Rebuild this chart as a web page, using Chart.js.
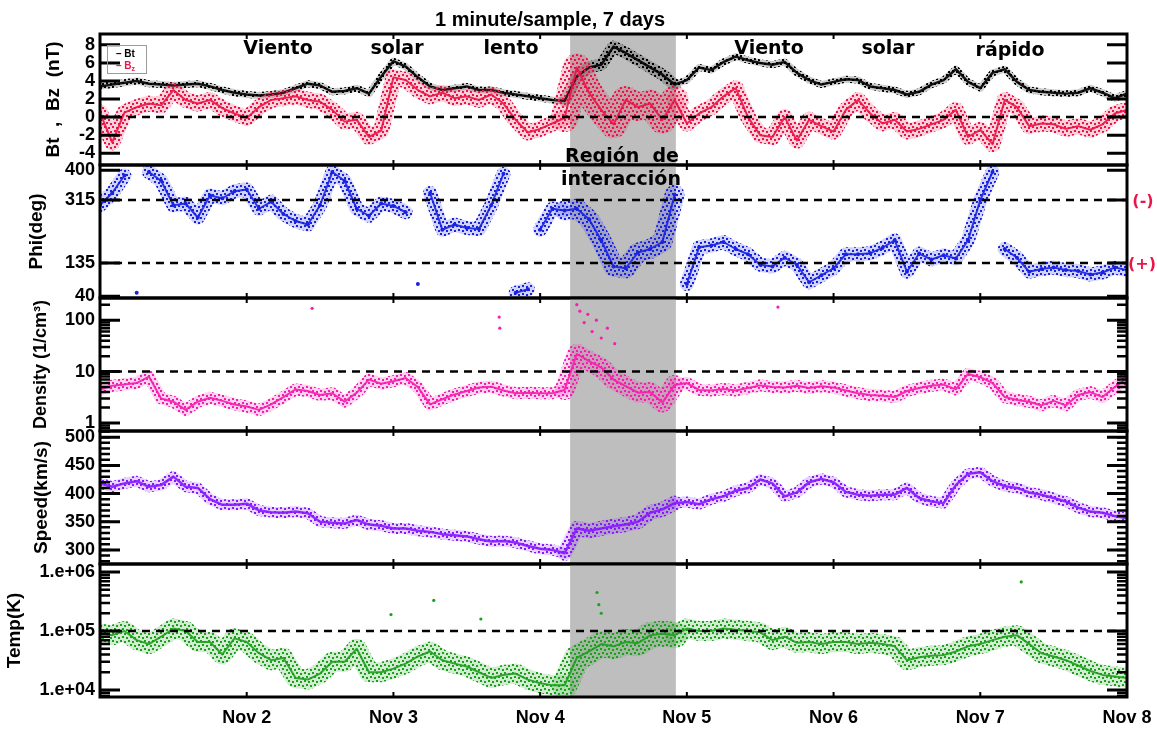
<!DOCTYPE html>
<html>
<head>
<meta charset="utf-8">
<title>Solar wind, 1 minute/sample, 7 days</title>
<script src="https://cdn.jsdelivr.net/npm/chart.js@4.4.1/dist/chart.umd.min.js"></script>
<style>
  html, body { margin: 0; padding: 0; background: #fff; }
  #wrap { position: relative; width: 1157px; height: 732px; overflow: hidden; }
  #wrap canvas { position: absolute; left: 0; }
  .txt { position: absolute; transform: translate(-50%, -50%); white-space: nowrap; line-height: 1;
         font-weight: bold; color: #000; z-index: 5; }
  .ann { font-family: "DejaVu Sans", sans-serif; font-size: 19px; }
  .sign { font-family: "DejaVu Sans", sans-serif; font-size: 16px; color: #e8174a; }
  #title { font-family: "Liberation Sans", Arial, sans-serif; font-size: 20px; }
  #legend { position: absolute; left: 107px; top: 45px; width: 40px; height: 29px; border: 1px solid #9a9a9a;
            font-family: "Liberation Sans", Arial, sans-serif; font-weight: bold; font-size: 10px; line-height: 12px;
            z-index: 5; padding: 2px 0 0 8px; box-sizing: border-box; }
  #legend sub { font-size: 7px; line-height: 0; vertical-align: -2px; }
</style>
</head>
<body>
<div id="wrap">
  <canvas id="pB"></canvas>
  <canvas id="pPhi"></canvas>
  <canvas id="pDen"></canvas>
  <canvas id="pSpd"></canvas>
  <canvas id="pTemp"></canvas>

  <div id="title" class="txt" style="left:550px; top:19px;">1 minute/sample, 7 days</div>
  <div class="txt ann" style="left:278px; top:47px;">Viento</div>
  <div class="txt ann" style="left:397px; top:47px;">solar</div>
  <div class="txt ann" style="left:511px; top:47px;">lento</div>
  <div class="txt ann" style="left:769px; top:47px;">Viento</div>
  <div class="txt ann" style="left:888px; top:47px;">solar</div>
  <div class="txt ann" style="left:1010px; top:49px;">rápido</div>
  <div class="txt ann" style="left:622px; top:155px;">Región&nbsp;&nbsp;de</div>
  <div class="txt ann" style="left:621px; top:178px;">interacción</div>
  <div class="txt sign" style="left:1143px; top:201px;">(-)</div>
  <div class="txt sign" style="left:1142px; top:264px;">(+)</div>
  <div id="legend"><div>&#8211;&nbsp;Bt</div><div style="color:#e8174a">&#8211;&nbsp;B<sub>z</sub></div></div>
</div>

<script>
// Time grid: hours since Nov 1 00:00 (2-hour samples)
const hours = [0,2,4,6,8,10,12,14,16,18,20,22,24,26,28,30,32,34,36,38,40,42,44,46,48,50,52,54,56,58,
  60,62,64,66,68,70,72,74,76,78,80,82,84,86,88,90,92,94,96,98,100,102,104,106,108,110,112,114,116,118,
  120,122,124,126,128,130,132,134,136,138,140,142,144,146,148,150,152,154,156,158,160,162,164,166,168];

// Magnetic field magnitude Bt and Bz component (nT)
const bt = [3.4,3.6,3.8,4.0,3.7,3.6,3.5,3.6,3.7,3.4,3.0,2.7,2.5,2.4,2.5,2.7,3.2,3.7,3.5,2.8,
  2.9,3.2,2.6,4.5,6.2,5.6,4.4,3.4,3.0,3.2,3.4,3.0,3.0,2.7,2.5,2.3,2.1,1.9,1.8,4.5,
  5.5,5.8,7.8,7.1,6.3,5.5,4.7,3.6,4.1,5.5,5.2,6.1,6.7,6.3,6.0,5.8,6.1,4.9,4.1,3.6,
  3.9,4.2,4.1,3.4,3.2,3.0,2.5,2.8,3.6,4.1,5.3,3.9,3.2,4.9,5.3,3.9,3.0,2.8,2.7,2.6,
  2.7,3.2,2.7,2.1,2.6];
const bz = [0.5,-2.8,0.5,1.1,1.5,1.3,3.0,1.9,1.5,1.9,1.0,0.4,-0.1,1.1,1.9,2.1,2.3,1.9,1.7,0.8,
  -0.5,-0.3,-2.2,-1.5,4.4,4.1,3.0,2.3,2.7,2.1,2.3,1.9,2.5,1.5,-0.3,-1.7,-1.3,-0.7,-0.1,5.5,
  2.7,0.8,-0.8,1.9,1.1,1.5,-0.3,1.9,-0.7,0.4,1.1,2.3,3.2,0.0,-2.0,-2.2,0.0,-2.6,-0.3,-1.0,
  -1.6,0.8,1.9,0.4,-0.7,-0.3,-1.6,-1.3,-0.8,-0.3,0.8,-2.2,-1.4,-3.0,1.9,1.1,-1.0,-0.7,-0.8,-1.3,
  -1.0,-1.4,-0.8,0.4,0.8];

// Field azimuth Phi (deg), plotted on the 40..400 wrapped range
const phi = [300,335,385,50,395,370,300,305,265,328,320,340,345,290,310,275,255,245,300,395,
  370,290,270,305,298,280,75,335,230,245,235,232,300,390,50,60,230,290,285,290,
  260,200,125,120,165,175,195,330,75,180,185,195,175,160,130,125,150,130,80,100,
  120,160,160,163,178,200,110,162,145,157,148,200,315,395,175,150,110,118,122,115,
  112,102,108,122,115];

// Proton density (1/cm^3)
const density = [4.5,5.3,5.6,6.0,8.0,3.0,2.6,1.8,2.6,3.1,2.7,2.3,2.1,1.8,2.3,3.2,4.5,4.2,3.5,3.8,
  2.6,3.9,7.0,5.8,6.5,7.5,5.0,2.3,2.9,3.6,4.2,4.9,5.1,4.3,3.8,3.9,3.8,3.8,4.4,22,
  16,12,7,5.2,3.9,4.0,2.5,5.5,6.0,4.4,4.3,4.6,4.3,4.8,5.4,5.0,4.9,5.3,4.8,5.2,
  4.9,4.3,3.8,3.5,3.4,3.2,4.2,4.8,5.3,5.6,4.5,9.0,7.8,6.0,3.2,2.8,2.6,2.2,2.7,2.2,
  3.5,4.0,3.2,5.0,7.5];
const densitySpikeHours  = [34.7,65.3,65.4,78.0,78.5,79.2,79.8,80.5,81.2,82.0,83.0,84.2,110.9];
const densitySpikeValues = [170,115,70,200,150,90,130,60,100,45,70,35,180];

// Bulk speed (km/s)
const speed = [418,412,418,422,412,415,430,412,410,390,380,380,382,370,367,366,368,365,350,348,
  347,353,345,343,338,338,334,332,328,326,324,319,315,316,313,307,302,300,294,338,
  334,338,342,345,350,366,372,383,385,381,390,395,405,410,425,418,395,402,420,426,
  420,403,398,396,398,398,410,392,386,383,415,435,438,422,413,410,402,398,392,386,
  375,368,366,360,356];

// Proton temperature (K)
const temp = [90000,85000,100000,70000,60000,80000,110000,100000,65000,65000,40000,75000,65000,42000,32000,35000,16000,15000,19000,30000,
  30000,50000,20000,20000,23000,28000,37000,45000,32000,28000,25000,20000,16000,18000,19000,15000,13000,12000,12000,35000,
  45000,60000,55000,65000,62000,85000,90000,85000,110000,100000,100000,110000,105000,100000,95000,70000,80000,63000,65000,60000,
  65000,65000,60000,63000,60000,55000,32000,36000,38000,39000,45000,55000,60000,70000,80000,85000,60000,42000,37000,32000,
  26000,21000,18000,17000,16000];
const tempSpikeHours  = [47.6,54.6,62.3,81.3,81.6,82.0,150.7];
const tempSpikeValues = [190000,330000,160000,450000,280000,200000,680000];

// Axis ticks and labels
const dayTicks  = [24,48,72,96,120,144,168];
const dayLabels = ['Nov 2','Nov 3','Nov 4','Nov 5','Nov 6','Nov 7','Nov 8'];
const bLabels   = [-4,-2,0,2,4,6,8];
const phiLabels = [40,135,315,400];
const denLabels = [1,10,100];
const spdLabels = [300,350,400,450,500];
const tempLabels = [1e4,1e5,1e6];

// Interaction region interval (hours)
const shadeStart = 76.9, shadeEnd = 94.2;

function pts(xs, ys) { return xs.map((h, i) => ({ x: h, y: ys[i] })); }
function minorLog(lo, hi) {
  const out = [];
  for (let d = Math.floor(Math.log10(lo)); d <= Math.ceil(Math.log10(hi)); d++) {
    for (let m = 2; m <= 9; m++) { const v = m * Math.pow(10, d); if (v > lo && v < hi) out.push(v); }
  }
  return out;
}
function minorLin(lo, hi, step) {
  const out = [];
  for (let v = Math.ceil(lo / step) * step; v <= hi; v += step) out.push(v);
  return out;
}

Chart.defaults.font.family = '"Liberation Sans", Arial, sans-serif';
Chart.defaults.font.weight = 'bold';
Chart.defaults.color = '#000';

// IDL-style frame: shading, dashed reference levels, inward ticks and a heavy border
const framePlugin = {
  id: 'frame',
  beforeDatasetsDraw(chart) {
    const { ctx, chartArea: a, scales: { x } } = chart;
    const x0 = x.getPixelForValue(shadeStart), x1 = x.getPixelForValue(shadeEnd);
    ctx.save();
    ctx.fillStyle = '#bebebe';
    ctx.fillRect(x0, a.top, x1 - x0, a.bottom - a.top);
    ctx.restore();
  },
  afterDatasetsDraw(chart, args, o) {
    const { ctx, chartArea: a, scales: { x, y } } = chart;
    ctx.save();
    ctx.strokeStyle = '#000';
    ctx.lineWidth = 2.5;
    ctx.setLineDash([8, 6]);
    (o.refs || []).forEach(v => {
      const py = y.getPixelForValue(v);
      ctx.beginPath(); ctx.moveTo(a.left, py); ctx.lineTo(a.right, py); ctx.stroke();
    });
    ctx.setLineDash([]);
    const tick = (v, len) => {
      const py = y.getPixelForValue(v);
      if (py < a.top || py > a.bottom) return;
      ctx.beginPath();
      ctx.moveTo(a.left, py); ctx.lineTo(a.left + len, py);
      ctx.moveTo(a.right - len, py); ctx.lineTo(a.right, py);
      ctx.stroke();
    };
    ctx.lineWidth = 3;
    (o.major || []).forEach(v => tick(v, 20));
    ctx.lineWidth = 2.5;
    (o.minor || []).forEach(v => tick(v, 10));
    ctx.lineWidth = 2;
    dayTicks.forEach(h => {
      const px = x.getPixelForValue(h);
      ctx.beginPath();
      ctx.moveTo(px, a.top); ctx.lineTo(px, a.top + 5);
      ctx.moveTo(px, a.bottom - 5); ctx.lineTo(px, a.bottom);
      ctx.stroke();
    });
    ctx.lineWidth = 3;
    ctx.strokeRect(a.left, a.top, a.right - a.left, a.bottom - a.top);
    ctx.restore();
  }
};

function rgba(rgb, a) { return 'rgba(' + rgb.join(',') + ',' + a + ')'; }

// Stippled stroke texture: small dots that give the band a sampled look
function stipple(rgb) {
  const t = document.createElement('canvas');
  t.width = 8; t.height = 8;
  const c = t.getContext('2d');
  c.fillStyle = rgba(rgb, 0.2);
  c.fillRect(0, 0, 8, 8);
  c.fillStyle = rgba(rgb, 1);
  [[0, 0], [4, 1], [2, 4], [6, 5]].forEach(([x, y]) => c.fillRect(x, y, 2, 2));
  return c.createPattern(t, 'repeat');
}

const inShade = c => c.p0.parsed.x >= shadeStart - 1 && c.p1.parsed.x <= shadeEnd + 1;

// A series is drawn as a stippled wide stroke (sample spread) under a solid core stroke
function band(data, rgb, wide, core, opts) {
  opts = opts || {};
  const base = { data, pointRadius: 0, tension: 0, fill: false, clip: 0,
                 borderJoinStyle: 'round', borderCapStyle: 'round' };
  const hide = opts.wrap ? (c => Math.abs(c.p1.parsed.y - c.p0.parsed.y) > 150) : (() => false);
  const wideSeg = {
    borderColor: c => hide(c) ? 'rgba(0,0,0,0)' : undefined,
    borderWidth: c => (opts.shadeWide && inShade(c)) ? opts.shadeWide : undefined
  };
  const coreSeg = { borderColor: c => hide(c) ? 'rgba(0,0,0,0)' : undefined };
  return [
    Object.assign({}, base, { borderColor: stipple(rgb), borderWidth: wide, segment: wideSeg }),
    Object.assign({}, base, { borderColor: rgba(rgb, 0.9), borderWidth: core, segment: coreSeg,
                              pointRadius: opts.dots || 0, pointBorderWidth: 0,
                              pointBackgroundColor: rgba(rgb, 1) })
  ];
}
function spikes(data, rgb) {
  return { data, showLine: false, pointRadius: 1.6, pointBorderWidth: 0, clip: 0,
           pointBackgroundColor: rgba(rgb, 1), borderColor: rgba(rgb, 1) };
}

const RED = [235, 20, 70], BLUE = [25, 35, 225], PINK = [245, 30, 175], VIOLET = [135, 25, 255], GREEN = [30, 160, 30];

function makePanel(p) {
  const cv = document.getElementById(p.id);
  const top = p.top - 12;
  const h = p.last ? 732 - top : (p.bottom - p.top) + 24;
  cv.width = 1157; cv.height = h;
  cv.style.top = top + 'px'; cv.style.width = '1157px'; cv.style.height = h + 'px';
  return new Chart(cv, {
    type: 'line',
    data: { datasets: p.datasets },
    options: {
      responsive: false, devicePixelRatio: 1, animation: false,
      layout: { padding: { top: 12, bottom: p.last ? 0 : 12, left: 0, right: 30 } },
      plugins: { legend: { display: false }, tooltip: { enabled: false },
                 frame: { refs: p.refs, major: p.major, minor: p.minor } },
      scales: {
        x: {
          type: 'linear', min: 0, max: 168, bounds: 'data', display: !!p.last,
          grid: { display: false, drawTicks: false }, border: { display: false },
          afterBuildTicks: s => { s.ticks = dayTicks.map(v => ({ value: v })); },
          afterFit: s => { s.height = p.last ? 35 : 0; s.paddingLeft = 0; s.paddingRight = 0; },
          ticks: { autoSkip: false, maxRotation: 0, padding: 10, font: { size: 18, weight: 'bold' },
                   callback: v => dayLabels[dayTicks.indexOf(v)] }
        },
        y: {
          type: p.type, min: p.min, max: p.max, bounds: 'data',
          grid: { display: false, drawTicks: false }, border: { display: false },
          afterBuildTicks: s => { s.ticks = p.labels.map(v => ({ value: v })); },
          afterFit: s => { s.width = 100; s.paddingTop = 0; s.paddingBottom = 0; },
          ticks: { autoSkip: false, padding: 5, font: { size: 18, weight: 'bold' }, callback: p.fmt },
          title: { display: true, text: p.title, color: '#000', padding: { top: p.tpad, bottom: 0 },
                   font: { size: p.tsize || 19, weight: 'bold' } }
        }
      }
    },
    plugins: [framePlugin]
  });
}

makePanel({
  id: 'pB', top: 34, bottom: 165, type: 'linear', min: -5.3, max: 9.2,
  labels: bLabels, fmt: v => String(v), title: 'Bt  ,  Bz  (nT)', tpad: 42,
  refs: [0], major: bLabels, minor: [],
  datasets: [...band(pts(hours, bz), RED, 16, 2, { shadeWide: 28 }), ...band(pts(hours, bt), [0, 0, 0], 7, 2.5, { shadeWide: 12 })]
});

makePanel({
  id: 'pPhi', top: 165, bottom: 298, type: 'linear', min: 35, max: 415,
  labels: phiLabels, fmt: v => String(v), title: 'Phi(deg)', tpad: 25,
  refs: [315, 135], major: phiLabels, minor: [],
  datasets: band(pts(hours, phi), BLUE, 14, 2, { wrap: true, dots: 2, shadeWide: 20 })
});

makePanel({
  id: 'pDen', top: 298, bottom: 431, type: 'logarithmic', min: 0.7, max: 270,
  labels: denLabels, fmt: v => String(v), title: 'Density (1/cm\u00B3)', tpad: 30, tsize: 18,
  refs: [10], major: denLabels, minor: minorLog(0.7, 270),
  datasets: [...band(pts(hours, density), PINK, 12, 2, { shadeWide: 20 }), spikes(pts(densitySpikeHours, densitySpikeValues), PINK)]
});

makePanel({
  id: 'pSpd', top: 431, bottom: 564, type: 'linear', min: 275, max: 511,
  labels: spdLabels, fmt: v => String(v), title: 'Speed(km/s)', tpad: 30,
  refs: [], major: spdLabels, minor: minorLin(280, 510, 10),
  datasets: band(pts(hours, speed), VIOLET, 11, 2.5, { shadeWide: 15 })
});

makePanel({
  id: 'pTemp', top: 564, bottom: 697, type: 'logarithmic', min: 7600, max: 1.37e6, last: true,
  labels: tempLabels, fmt: v => '1.e+0' + Math.round(Math.log10(v)), title: 'Temp(K)', tpad: 3,
  refs: [1e5], major: tempLabels, minor: minorLog(7600, 1.37e6),
  datasets: [...band(pts(hours, temp), GREEN, 20, 2, { shadeWide: 26 }), spikes(pts(tempSpikeHours, tempSpikeValues), GREEN)]
});
</script>
</body>
</html>
